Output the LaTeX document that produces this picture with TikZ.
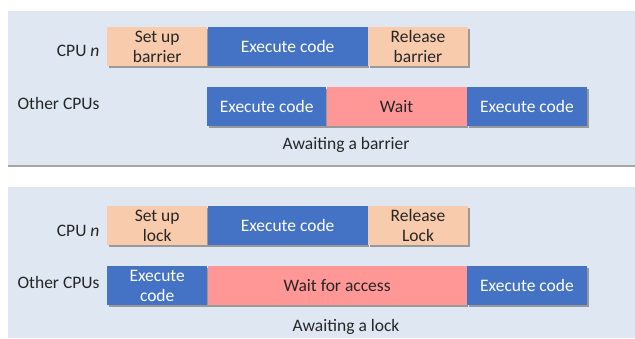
\documentclass[tikz,border=0pt]{standalone}
\usepackage{fontspec}
\setmainfont{Carlito}
\usetikzlibrary{shadows}
\definecolor{panelbg}{HTML}{DEE7F2}
\definecolor{codeblue}{HTML}{4472C4}
\definecolor{setpeach}{HTML}{F8CBAD}
\definecolor{waitpink}{HTML}{FF9797}
\definecolor{edgegray}{HTML}{A6A6A6}

\begin{document}
\begin{tikzpicture}[x=1pt,y=-1pt,
  txt/.style={font=\fontsize{17.5}{20}\selectfont,text=black!85},
  bar/.style={txt,anchor=north west,minimum height=39pt,inner sep=0pt,align=center,
    drop shadow={shadow xshift=1.6pt,shadow yshift=-1.6pt,fill=black!40,opacity=1}},
  code/.style={bar,fill=codeblue,text=white},
  setup/.style={bar,fill=setpeach},
  waiting/.style={bar,fill=waitpink},
  panel/.style={fill=panelbg,draw=none}]
\useasboundingbox (0,0) rectangle (635,338);
% two background panels
\fill[edgegray] (8,13) rectangle (635,167);
\fill[panelbg] (8,11) rectangle (635,164.5);
\fill[edgegray] (8,189) rectangle (635,338);
\fill[panelbg] (8,187) rectangle (635,338);

% barrier
\node[txt,anchor=east] (cpuA) at (103,51) {CPU \textit{n}};
\node[txt,anchor=east] (othA) at (103,103) {Other CPUs};
\node[setup,minimum width=100pt] (setA) at (107,27) {Set up\\barrier};
\node[code,minimum width=160pt] (exeA) at (setA.north east) {Execute code};
\node[setup,minimum width=100pt] (relA) at (exeA.north east) {Release\\barrier};
\node[code,minimum width=119pt] (preA) at (207,87) {Execute code};
\node[waiting,minimum width=140pt] (waitA) at (preA.north east) {Wait};
\node[code,minimum width=120pt] (postA) at (waitA.north east) {Execute code};
\node[txt] (capA) at (346,145) {Awaiting a barrier};

% lock
\node[txt,anchor=east] (cpuB) at (103,231) {CPU \textit{n}};
\node[txt,anchor=east] (othB) at (103,282) {Other CPUs};
\node[setup,minimum width=100pt] (setB) at (107,206) {Set up\\lock};
\node[code,minimum width=160pt] (exeB) at (setB.north east) {Execute code};
\node[setup,minimum width=100pt] (relB) at (exeB.north east) {Release\\Lock};
\node[code,minimum width=100pt] (preB) at (107,266) {Execute\\code};
\node[waiting,minimum width=259pt] (waitB) at (preB.north east) {Wait for access};
\node[code,minimum width=120pt] (postB) at (waitB.north east) {Execute code};
\node[txt] (capB) at (346,327) {Awaiting a lock};
\end{tikzpicture}
\end{document}
